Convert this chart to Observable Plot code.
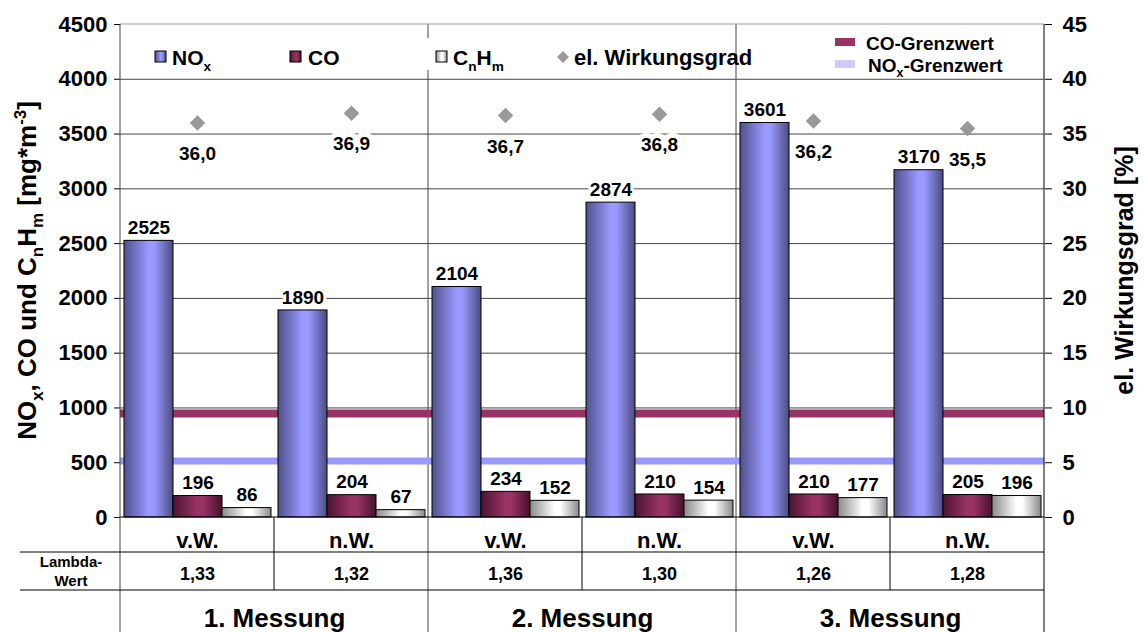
<!DOCTYPE html>
<html>
<head>
<meta charset="utf-8">
<script src="https://cdn.jsdelivr.net/npm/d3@7"></script>
<script src="https://cdn.jsdelivr.net/npm/@observablehq/plot@0.6"></script>
<style>
  html, body { margin: 0; padding: 0; background: #fff; }
  #chart { width: 1144px; height: 632px; overflow: hidden; }
  svg { font-family: "Liberation Sans", Arial, sans-serif; }
  svg text { font-weight: 700; }
</style>
</head>
<body>
<div id="chart"></div>
<script>
// ---------- data ----------
const categories   = ["v.W.", "n.W.", "v.W.", "n.W.", "v.W.", "n.W."];
const groups       = ["1. Messung", "1. Messung", "2. Messung", "2. Messung", "3. Messung", "3. Messung"];
const lambdaValues = ["1,33", "1,32", "1,36", "1,30", "1,26", "1,28"];
const noxValues    = [2525, 1890, 2104, 2874, 3601, 3170];
const coValues     = [196, 204, 234, 210, 210, 205];
const cnhmValues   = [86, 67, 152, 154, 177, 196];
const efficiency   = [36.0, 36.9, 36.7, 36.8, 36.2, 35.5];
const coLimit      = 950;
const noxLimit     = 515;
const seriesNames  = ["NOx", "CO", "CnHm"];
const yTicks       = [0, 500, 1000, 1500, 2000, 2500, 3000, 3500, 4000, 4500];
const y2Ticks      = [0, 5, 10, 15, 20, 25, 30, 35, 40, 45];

// ---------- derived tables ----------
const yMax = yTicks[yTicks.length - 1];
const y2Max = y2Ticks[y2Ticks.length - 1];
const k = yMax / y2Max; // secondary axis factor
const ids = categories.map((_, i) => i);
const seriesValues = {NOx: noxValues, CO: coValues, CnHm: cnhmValues};
const bars = ids.flatMap(i => seriesNames.map(s => ({id: i, series: s, value: seriesValues[s][i]})));
const eff = ids.map(i => ({id: i, value: efficiency[i]}));
const gradId = {NOx: "grad-nox", CO: "grad-co", CnHm: "grad-cnhm"};

const plot = Plot.plot({
  width: 1144,
  height: 632,
  marginLeft: 118,
  marginRight: 99,
  marginTop: 24,
  marginBottom: 115,
  style: {fontFamily: "'Liberation Sans', Arial, sans-serif", fontWeight: "bold", color: "#000", background: "#fff", overflow: "visible"},
  fx: {domain: ids, padding: 0, axis: null},
  x: {domain: seriesNames, paddingInner: 0, paddingOuter: 0.054, axis: null},
  y: {domain: [0, yMax], axis: null},
  marks: [
    Plot.ruleY(yTicks.filter(t => t > 0 && t < yMax), {stroke: "#444", strokeWidth: 1}),
    Plot.ruleY([coLimit], {stroke: "#993366", strokeWidth: 8}),
    Plot.ruleY([noxLimit], {stroke: "#9999ff", strokeWidth: 7}),
    ...seriesNames.map(s => Plot.barY(bars.filter(d => d.series === s), {
      fx: "id", x: "series", y: "value",
      fill: `url(#${gradId[s]})`, stroke: "#000", strokeWidth: 1
    })),
    Plot.text(bars, {
      fx: "id", x: "series", y: "value", text: d => String(d.value),
      dy: -13, fontSize: 19, fontWeight: "bold", fill: "#000",
      stroke: "#fff", strokeWidth: 6, paintOrder: "stroke"
    }),
    Plot.dot(eff, {fx: "id", y: d => d.value * k, symbol: "diamond2", r: 7, fill: "#999999", stroke: null}),
    Plot.text(eff, {
      fx: "id", y: d => d.value * k, text: d => d.value.toFixed(1).replace(".", ","),
      dy: 31, fontSize: 19, fontWeight: "bold", fill: "#000",
      stroke: "#fff", strokeWidth: 10, paintOrder: "stroke"
    }),
    Plot.axisY({ticks: yTicks, anchor: "left", tickFormat: v => String(v), tickSize: 6, tickPadding: 7, fontSize: 22, fontWeight: "bold", label: null}),
    Plot.axisY({ticks: y2Ticks.map(v => v * k), anchor: "right", tickFormat: v => String(Math.round(v / k)), tickSize: 7, tickPadding: 11, fontSize: 22, fontWeight: "bold", label: null}),
    // category table rows
    Plot.text(ids, {fx: d => d, text: d => categories[d], frameAnchor: "bottom", textAnchor: "middle", lineAnchor: "middle", dy: 23, fontSize: 22, fontWeight: "bold"}),
    Plot.text(ids, {fx: d => d, text: d => lambdaValues[d], frameAnchor: "bottom", textAnchor: "middle", lineAnchor: "middle", dy: 57, fontSize: 18, fontWeight: "bold"}),
    Plot.text(ids.filter(i => i % 2 === 0), {fx: d => d, text: d => groups[d], frameAnchor: "bottom-right", textAnchor: "middle", lineAnchor: "middle", dy: 101, fontSize: 26, fontWeight: "bold"})
  ]
});

document.getElementById("chart").appendChild(plot);

// ---------- decorations (gradients, table lines, titles, legend) ----------
const svg = d3.select(plot);
const defs = svg.append("defs");
function gradient(id, stops) {
  const g = defs.append("linearGradient").attr("id", id)
    .attr("x1", "0").attr("x2", "1").attr("y1", "0").attr("y2", "0");
  stops.forEach(([o, c]) => g.append("stop").attr("offset", o).attr("stop-color", c));
}
gradient("grad-nox", [[0, "#50508c"], [0.5, "#9999ff"], [0.62, "#9999ff"], [1, "#4c4c80"]]);
gradient("grad-co", [[0, "#4d1430"], [0.5, "#993366"], [0.62, "#993366"], [1, "#45122c"]]);
gradient("grad-cnhm", [[0, "#8a8a8a"], [0.5, "#ffffff"], [0.62, "#ffffff"], [1, "#8a8a8a"]]);

const fxS = plot.scale("fx");
const yS = plot.scale("y");
const step = fxS.apply(1) - fxS.apply(0);
const xL = fxS.apply(0), xR = fxS.apply(ids.length - 1) + step;
const yTop = yS.apply(yMax), yBase = yS.apply(0);
const row1 = yBase + 35, row2 = yBase + 73, bottom = 632;

const back = svg.insert("g", ":first-child");
function line(g, x1, y1, x2, y2, color, w) {
  g.append("line").attr("x1", x1).attr("y1", y1).attr("x2", x2).attr("y2", y2)
    .attr("stroke", color).attr("stroke-width", w || 1);
}
// group dividers through chart and table
[2, 4].forEach(i => line(back, fxS.apply(i), yTop, fxS.apply(i), bottom, "#444"));

const front = svg.append("g");
line(front, xL, yTop, xR, yTop, "#999");
line(front, xL, yBase, xR, yBase, "#000");
line(front, xL, yTop, xL, bottom, "#444");
line(front, xR, yTop, xR, bottom, "#000");
[1, 3, 5].forEach(i => line(front, fxS.apply(i), yBase, fxS.apply(i), row2, "#000"));
line(front, 20, row1, xR, row1, "#000");
line(front, 20, row2, xR, row2, "#000");

// Lambda label
const lam = front.append("text").attr("text-anchor", "middle").attr("font-size", 15).attr("font-weight", "bold");
lam.append("tspan").attr("x", 71).attr("y", 567).text("Lambda-");
lam.append("tspan").attr("x", 71).attr("y", 586).text("Wert");

// rich text with sub/superscripts
function richText(g, parts, size, anchor) {
  const t = g.append("text").attr("font-size", size).attr("font-weight", "bold")
    .attr("text-anchor", anchor || "start").attr("fill", "#000");
  let shift = 0;
  parts.forEach(([txt, kind]) => {
    const target = kind === "sub" ? size * 0.28 : kind === "sup" ? -size * 0.38 : 0;
    const sp = t.append("tspan").attr("dy", target - shift).text(txt);
    if (kind) sp.attr("font-size", size * 0.65);
    shift = target;
  });
  return t;
}
richText(front.append("g").attr("transform", `translate(36,${(yTop + yBase) / 2}) rotate(-90)`),
  [["NO"], ["x", "sub"], [", CO und C"], ["n", "sub"], ["H"], ["m", "sub"], [" [mg*m"], ["-3", "sup"], ["]"]], 26, "middle");
richText(front.append("g").attr("transform", `translate(1133,${(yTop + yBase) / 2}) rotate(-90)`),
  [["el. Wirkungsgrad [%]"]], 25, "middle");

// legend
const lg = svg.append("g");
lg.append("rect").attr("x", 140).attr("y", 38).attr("width", 420).attr("height", 32).attr("fill", "#fff");
function swatch(x, id) {
  lg.append("rect").attr("x", x).attr("y", 51).attr("width", 11).attr("height", 11)
    .attr("fill", `url(#${id})`).attr("stroke", "#000").attr("stroke-width", 1);
}
swatch(155, "grad-nox");
richText(lg.append("g").attr("transform", "translate(172,65)"), [["NO"], ["x", "sub"]], 21);
swatch(290, "grad-co");
richText(lg.append("g").attr("transform", "translate(308,65)"), [["CO"]], 21);
swatch(436, "grad-cnhm");
richText(lg.append("g").attr("transform", "translate(453,65)"), [["C"], ["n", "sub"], ["H"], ["m", "sub"]], 21);
lg.append("path").attr("d", "M563,51L569,57L563,63L557,57Z").attr("fill", "#999999");
richText(lg.append("g").attr("transform", "translate(574,65)"), [["el. Wirkungsgrad"]], 22);

lg.append("line").attr("x1", 835).attr("x2", 855).attr("y1", 42).attr("y2", 42).attr("stroke", "#993366").attr("stroke-width", 8);
richText(lg.append("g").attr("transform", "translate(866,50)"), [["CO-Grenzwert"]], 19);
lg.append("line").attr("x1", 835).attr("x2", 855).attr("y1", 64).attr("y2", 64).attr("stroke", "#ccccff").attr("stroke-width", 8);
richText(lg.append("g").attr("transform", "translate(868,72)"), [["NO"], ["x", "sub"], ["-Grenzwert"]], 19);
</script>
</body>
</html>
